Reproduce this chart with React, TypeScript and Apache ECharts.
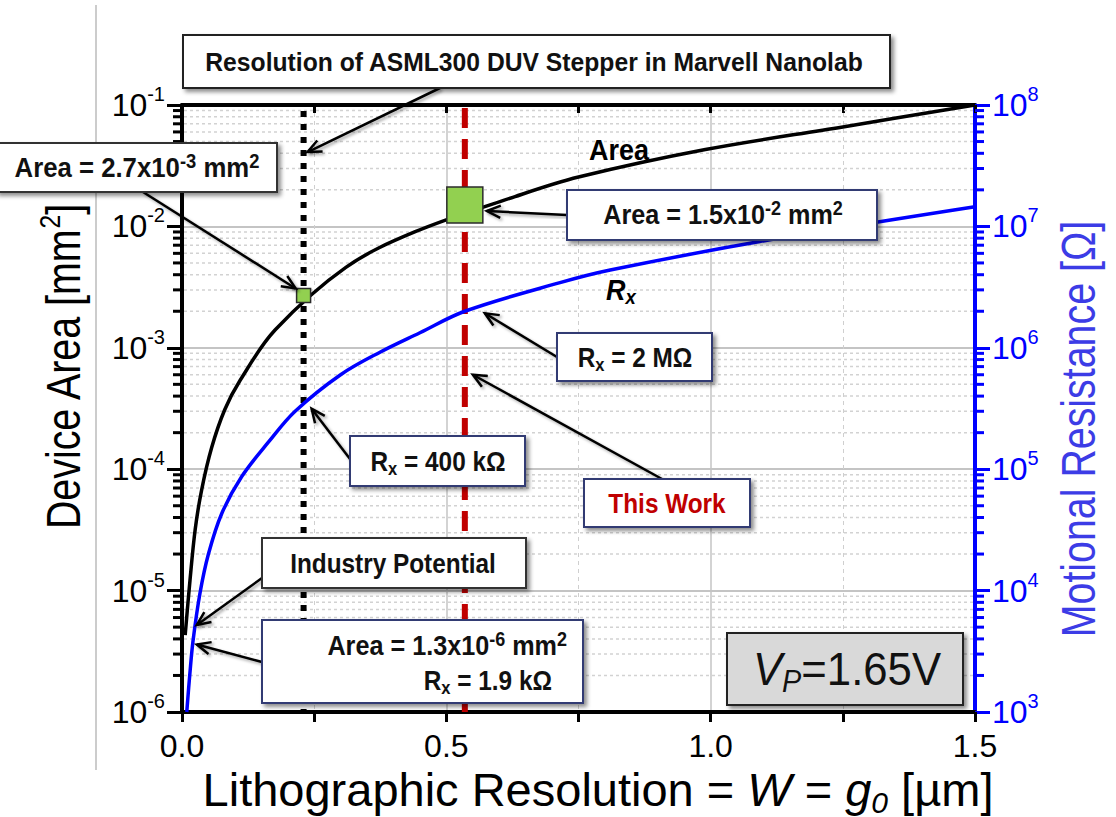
import React, { useEffect, useRef } from "react";
import * as echarts from "echarts";

// Device area versus lithographic resolution (left log axis)
const W_AREA = [0.006, 0.015, 0.025, 0.037, 0.056, 0.081, 0.11, 0.176, 0.31, 0.44, 0.63, 0.75, 0.99, 1.25, 1.5];
const AREA = [4.3e-6, 1.2e-5, 3.2e-5, 6.7e-5, 1.5e-4, 3.1e-4, 5.4e-4, 1.4e-3, 4.6e-3, 9.0e-3, 1.76e-2, 2.55e-2, 4.3e-2, 6.6e-2, 1.0e-1];

// Motional resistance versus lithographic resolution (right log axis)
const W_RX = [0.009, 0.015, 0.021, 0.034, 0.05, 0.075, 0.113, 0.163, 0.214, 0.3, 0.3745, 0.45, 0.535, 0.715, 0.81, 1.093, 1.5];
const RX = [1.0e3, 2.1e3, 3.9e3, 9.5e3, 2.0e4, 4.3e4, 8.7e4, 1.66e5, 3.0e5, 6.0e5, 9.2e5, 1.33e6, 2.0e6, 3.44e6, 4.37e6, 7.5e6, 1.45e7];

// Reference resolutions
const ASML_W = 0.23;
const THIS_WORK_W = 0.535;

// Highlighted operating points
const MARKER_W = [0.23, 0.535];
const MARKER_AREA = [2.7e-3, 1.5e-2];
const MARKER_SIZE = [14, 36];

// Axis ranges
const X_MIN = 0;
const X_MAX = 1.5;
const X_STEP = 0.5;
const AREA_MIN = 1e-6;
const AREA_MAX = 1e-1;
const RX_MIN = 1e3;
const RX_MAX = 1e8;
const MINOR_MANTISSAS = [2, 3, 4, 5, 6, 7, 8, 9];

const FONT = "'Liberation Sans', Arial, Helvetica, sans-serif";
const BLUE = "#0000ff";
const NAVY = "#333a73";

function minorValues(min: number, max: number): number[] {
  const out: number[] = [];
  for (let d = Math.round(Math.log10(min)); d < Math.round(Math.log10(max)); d++) {
    for (const m of MINOR_MANTISSAS) out.push(m * Math.pow(10, d));
  }
  return out;
}

const powLabel = (v: number) => `{b|10}{s|${Math.round(Math.log10(v))}}`;

function tickRich(color: string) {
  return {
    b: { fontFamily: FONT, fontSize: 32, color, lineHeight: 42 },
    s: { fontFamily: FONT, fontSize: 20, color, lineHeight: 22, verticalAlign: "top" },
  };
}

const B = { fontFamily: FONT, fontWeight: "bold", fill: "#111" };
const boxRich = {
  t: { ...B, fontSize: 28, lineHeight: 34 },
  s: { ...B, fontSize: 20, lineHeight: 16, verticalAlign: "top" },
  u: { ...B, fontSize: 19, lineHeight: 16, verticalAlign: "bottom" },
  red: { ...B, fontSize: 28, fill: "#c00000", lineHeight: 34 },
};

const shadow = { shadowBlur: 4, shadowColor: "rgba(0,0,0,0.45)", shadowOffsetX: 3, shadowOffsetY: 3 };

function box(x: number, y: number, w: number, h: number, stroke: string, fill = "#ffffff") {
  return {
    type: "rect",
    shape: { x, y, width: w, height: h },
    style: { fill, stroke, lineWidth: 2, ...shadow },
    z: 110,
  };
}

function label(x: number, y: number, text: string, align = "center", rich: any = boxRich, scaleX = 0.87, rotation = 0) {
  return {
    type: "text",
    x,
    y,
    scaleX,
    rotation,
    z: 120,
    style: { text, rich, align, verticalAlign: "middle" },
  };
}

function arrow(x1: number, y1: number, x2: number, y2: number) {
  const ang = Math.atan2(y2 - y1, x2 - x1);
  const L = 15;
  const a = 0.42;
  const pts = [
    [x2 - L * Math.cos(ang - a), y2 - L * Math.sin(ang - a)],
    [x2, y2],
    [x2 - L * Math.cos(ang + a), y2 - L * Math.sin(ang + a)],
  ];
  const st = { stroke: "#000", lineWidth: 2.5, shadowBlur: 3, shadowColor: "rgba(0,0,0,0.35)", shadowOffsetX: 2, shadowOffsetY: 2 };
  return [
    { type: "line", z: 105, shape: { x1, y1, x2, y2 }, style: st },
    { type: "polyline", z: 105, shape: { points: pts }, style: { ...st, fill: null } },
  ];
}

export default function App() {
  const ref = useRef<HTMLDivElement>(null);

  useEffect(() => {
    if (!ref.current) return;
    const chart = echarts.init(ref.current, undefined, { renderer: "svg" });

    const minorLeft = minorValues(AREA_MIN, AREA_MAX);
    const minorRight = minorValues(RX_MIN, RX_MAX);

    const option: any = {
      animation: false,
      backgroundColor: "#ffffff",
      grid: { left: 182, right: 141, top: 105, bottom: 105, containLabel: false },
      xAxis: [
        {
          type: "value",
          min: X_MIN,
          max: X_MAX,
          interval: X_STEP,
          position: "bottom",
          axisLine: { onZero: false, lineStyle: { color: "#000", width: 4 } },
          axisTick: { show: true, length: 10, lineStyle: { color: "#000", width: 3 } },
          minorTick: { show: true, splitNumber: 2, length: 10, lineStyle: { color: "#000", width: 3 } },
          splitLine: { show: true, lineStyle: { color: "#c4c4c4", width: 1.5 } },
          minorSplitLine: { show: true, lineStyle: { color: "#cfcfcf", width: 1, type: [4, 4] } },
          axisLabel: {
            fontFamily: FONT,
            fontSize: 32,
            color: "#000",
            margin: 18,
            formatter: (v: number) => v.toFixed(1),
          },
        },
        {
          type: "value",
          min: X_MIN,
          max: X_MAX,
          interval: X_STEP,
          position: "top",
          axisLine: { onZero: false, lineStyle: { color: "#000", width: 4 } },
          axisTick: { show: true, inside: true, length: 8, lineStyle: { color: "#000", width: 3 } },
          minorTick: { show: true, splitNumber: 2, length: 8, lineStyle: { color: "#000", width: 3 } },
          splitLine: { show: false },
          axisLabel: { show: false },
        },
      ],
      yAxis: [
        {
          type: "log",
          logBase: 10,
          min: AREA_MIN,
          max: AREA_MAX,
          position: "left",
          axisLine: { show: true, onZero: false, lineStyle: { color: "#000", width: 4 } },
          axisTick: { show: true, length: 15, lineStyle: { color: "#000", width: 3 } },
          splitLine: { show: true, lineStyle: { color: "#c4c4c4", width: 2 } },
          axisLabel: { formatter: powLabel, rich: tickRich("#000"), margin: 17 },
        },
        {
          type: "log",
          logBase: 10,
          min: RX_MIN,
          max: RX_MAX,
          position: "right",
          axisLine: { show: true, onZero: false, lineStyle: { color: BLUE, width: 4 } },
          axisTick: { show: true, length: 15, lineStyle: { color: BLUE, width: 3 } },
          splitLine: { show: false },
          axisLabel: { formatter: powLabel, rich: tickRich(BLUE), margin: 17 },
        },
      ],
      series: [
        {
          type: "custom",
          name: "area-minor",
          xAxisIndex: 0,
          yAxisIndex: 0,
          clip: false,
          z: 1,
          silent: true,
          data: minorLeft.map((v) => [X_MIN, v]),
          renderItem: (_p: any, api: any) => {
            const v = api.value(1);
            const a = api.coord([X_MIN, v]);
            const b = api.coord([X_MAX, v]);
            return {
              type: "group",
              children: [
                { type: "line", shape: { x1: a[0] + 2, y1: a[1], x2: b[0] - 2, y2: b[1] }, style: { stroke: "#d2d2d2", lineWidth: 1.5, lineDash: [3, 3] } },
                { type: "line", shape: { x1: a[0] - 9, y1: a[1], x2: a[0], y2: a[1] }, style: { stroke: "#000", lineWidth: 3 } },
              ],
            };
          },
        },
        {
          type: "custom",
          name: "rx-minor",
          xAxisIndex: 0,
          yAxisIndex: 1,
          clip: false,
          z: 1,
          silent: true,
          data: minorRight.map((v) => [X_MAX, v]),
          renderItem: (_p: any, api: any) => {
            const b = api.coord([X_MAX, api.value(1)]);
            return { type: "line", shape: { x1: b[0], y1: b[1], x2: b[0] + 9, y2: b[1] }, style: { stroke: BLUE, lineWidth: 3 } };
          },
        },
        {
          type: "line",
          name: "ASML300",
          xAxisIndex: 0,
          yAxisIndex: 0,
          symbol: "none",
          z: 3,
          data: [[ASML_W, AREA_MIN], [ASML_W, AREA_MAX]],
          lineStyle: { color: "#000", width: 6, type: [6, 7], dashOffset: 3 },
        },
        {
          type: "line",
          name: "This Work",
          xAxisIndex: 0,
          yAxisIndex: 0,
          symbol: "none",
          z: 3,
          data: [[THIS_WORK_W, AREA_MIN], [THIS_WORK_W, AREA_MAX]],
          lineStyle: { color: "#c00000", width: 6, type: [20, 11], dashOffset: 5 },
        },
        {
          type: "line",
          name: "Area",
          xAxisIndex: 0,
          yAxisIndex: 0,
          symbol: "none",
          smooth: 0.35,
          z: 4,
          data: W_AREA.map((w, i) => [w, AREA[i]]),
          lineStyle: { color: "#000", width: 3.5 },
        },
        {
          type: "line",
          name: "Rx",
          xAxisIndex: 0,
          yAxisIndex: 1,
          symbol: "none",
          smooth: 0.35,
          z: 4,
          data: W_RX.map((w, i) => [w, RX[i]]),
          lineStyle: { color: BLUE, width: 3.5 },
        },
        {
          type: "scatter",
          name: "markers",
          xAxisIndex: 0,
          yAxisIndex: 0,
          z: 6,
          symbol: "rect",
          data: MARKER_W.map((w, i) => ({ value: [w, MARKER_AREA[i]], symbolSize: MARKER_SIZE[i] })),
          itemStyle: { color: "#92d050", borderColor: "#2b2b2b", borderWidth: 1.5, opacity: 1 },
        },
      ],
    };

    chart.setOption(option);

    const pa = (x: number, y: number) => chart.convertToPixel({ xAxisIndex: 0, yAxisIndex: 0 }, [x, y]) as number[];
    const pr = (x: number, y: number) => chart.convertToPixel({ xAxisIndex: 0, yAxisIndex: 1 }, [x, y]) as number[];

    const asmlTop = pa(ASML_W, 4.1e-2);
    const sq1 = pa(MARKER_W[0], MARKER_AREA[0]);
    const sq2 = pa(MARKER_W[1], MARKER_AREA[1]);
    const rx2M = pr(THIS_WORK_W, 2.0e6);
    const workLine = pr(THIS_WORK_W, 6.0e5);
    const rx400k = pr(ASML_W, 3.6e5);
    const industry = pr(0.028, 5.2e3);
    const minArea = pr(0.028, 3.6e3);

    const title = { fontFamily: FONT, fontSize: 47, fill: "#000", lineHeight: 56 };
    const titleRich = {
      n: title,
      i: { ...title, fontStyle: "italic" },
      sub: { ...title, fontSize: 30, fontStyle: "italic", lineHeight: 30, verticalAlign: "bottom" },
      s: { ...title, fontSize: 30, lineHeight: 28, verticalAlign: "top" },
      bl: { ...title, fontSize: 48, fill: "#3c3ce6" },
      dl: { ...title, fontSize: 48 },
    };

    const graphics: any[] = [
      { type: "line", z: 1, shape: { x1: 96, y1: 5, x2: 96, y2: 770 }, style: { stroke: "#cccccc", lineWidth: 2 } },

      // axis titles
      label(598, 789, "{n|Lithographic Resolution = }{i|W}{n| = }{i|g}{sub|0}{n| [µm]}", "center", titleRich, 1),
      label(63, 367, "{dl|Device Area [mm}{s|2}{dl|]}", "center", titleRich, 0.82, Math.PI / 2),
      label(1078, 429, "{bl|Motional Resistance [Ω]}", "center", titleRich, 0.82, Math.PI / 2),

      ...arrow(440, 88, asmlTop[0] + 4, asmlTop[1]),
      ...arrow(143, 192, sq1[0] - 8, sq1[1] - 7),
      ...arrow(567, 215, sq2[0] + MARKER_SIZE[1] / 2 + 4, sq2[1] + 6),
      ...arrow(557, 357, rx2M[0] + 20, rx2M[1] + 2),
      ...arrow(662, 479, workLine[0] + 8, workLine[1]),
      ...arrow(350, 459, rx400k[0] + 8, rx400k[1] + 7),
      ...arrow(262, 578, industry[0], industry[1]),
      ...arrow(262, 662, minArea[0], minArea[1]),

      box(183, 35, 707, 53, "#222"),
      label(534, 62, "{t|Resolution of ASML300 DUV Stepper in Marvell Nanolab}", "center", {
        t: { ...B, fontSize: 26, lineHeight: 32 },
      }, 0.95),

      box(-4, 143, 281, 49, "#333"),
      label(137, 168, "{t|Area = 2.7x10}{s|-3}{t| mm}{s|2}", "center", boxRich, 0.92),

      box(567, 190, 310, 50, NAVY),
      label(723, 215, "{t|Area = 1.5x10}{s|-2}{t| mm}{s|2}", "center", boxRich, 0.9),

      box(557, 333, 155, 48, NAVY),
      label(635, 357, "{t|R}{u|x}{t| = 2 MΩ}"),

      box(584, 479, 166, 48, NAVY),
      label(667, 503, "{red|This Work}"),

      box(350, 436, 175, 50, NAVY),
      label(438, 461, "{t|R}{u|x}{t| = 400 kΩ}"),

      box(262, 538, 264, 50, "#333"),
      label(393, 563, "{t|Industry Potential}"),

      box(262, 620, 321, 83, NAVY),
      label(567, 646, "{t|Area = 1.3x10}{s|-6}{t| mm}{s|2}", "right", boxRich, 0.9),
      label(552, 680, "{t|R}{u|x}{t| = 1.9 kΩ}", "right"),

      box(727, 633, 236, 72, "#222", "#d9d9d9"),
      label(847, 669, "{i|V}{p|P}{n|=1.65V}", "center", {
        i: { fontFamily: FONT, fontSize: 47, fontStyle: "italic", fill: "#111", lineHeight: 56 },
        p: { fontFamily: FONT, fontSize: 31, fontStyle: "italic", fill: "#111", lineHeight: 30, verticalAlign: "bottom" },
        n: { fontFamily: FONT, fontSize: 47, fill: "#111", lineHeight: 56 },
      }, 0.93),

      label(619, 150, "{a|Area}", "center", {
        a: { ...B, fontSize: 29, fill: "#000" },
      }, 0.93),
      label(621, 290, "{r|R}{x|x}", "center", {
        r: { ...B, fontSize: 29, fontStyle: "italic", fill: "#000", lineHeight: 34 },
        x: { ...B, fontSize: 20, fontStyle: "italic", fill: "#000", lineHeight: 18, verticalAlign: "bottom" },
      }, 0.93),
    ];

    chart.setOption({ graphic: graphics });

    return () => chart.dispose();
  }, []);

  return <div ref={ref} style={{ position: "absolute", left: 0, top: 0, width: 1116, height: 817 }} />;
}
